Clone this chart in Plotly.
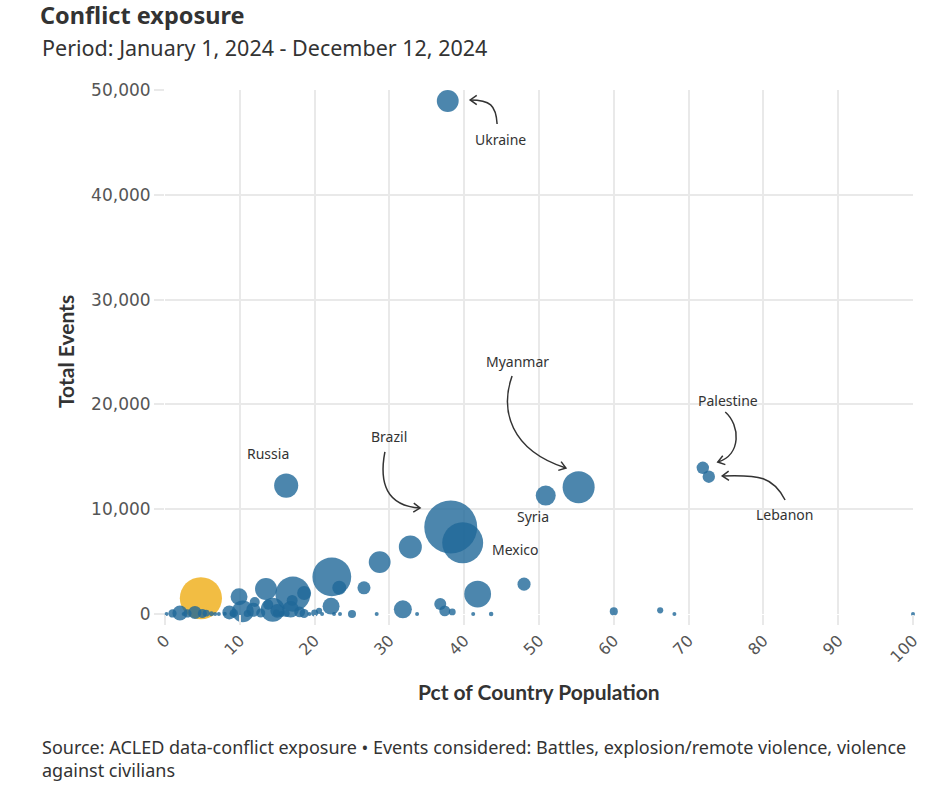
import math
import plotly.graph_objects as go

# ---------------- data ----------------
countries = [
    "India", "Ukraine", "Russia", "Myanmar", "Syria", "Palestine", "Lebanon", "Brazil", "Mexico",
    "c09", "c10", "Nigeria", "c12", "c13", "c14", "Pakistan", "c16", "c17", "c18", "c19",
    "Colombia", "Haiti", "c22", "c23", "c24", "c25", "c26", "c27", "c28", "c29", "c30",
    "c31", "c32", "c34", "c35", "c36", "c37", "c38", "c39", "c40", "c41", "c42", "c43",
    "c44", "c45", "c46", "c47", "c48", "c49", "c50", "c51", "c52", "c53", "c54", "c55",
    "c56", "c57", "c58", "c59", "c60", "c61", "c62", "c63", "c64", "c65", "c66", "c67",
    "c68", "c69", "c70",
]
pct_population = [
    4.8, 37.8, 16.2, 55.3, 50.9, 71.9, 72.7, 38.2, 39.8,
    32.8, 28.7, 22.3, 23.3, 26.6, 22.2, 17.1, 18.6, 17.0, 14.4, 13.5,
    41.8, 48.0, 31.8, 36.8, 37.4, 38.4, 33.7, 41.2, 43.6, 60.0, 66.2,
    68.1, 100.0, 9.9, 10.4, 12.0, 18.0, 18.6, 20.0, 20.6, 22.6, 23.4, 25.0,
    28.3, 0.2, 1.0, 2.0, 3.0, 4.0, 5.0, 5.5, 6.2, 6.7, 8.0, 8.6,
    9.2, 11.8, 13.8, 14.9, 15.6, 16.2, 19.3, 9.0, 11.0, 12.8, 15.0, 16.8,
    2.5, 7.2, 21.0,
]
total_events = [
    1500, 48950, 12250, 12100, 11300, 13950, 13100, 8300, 6800,
    6400, 4950, 3550, 2500, 2500, 750, 1900, 2000, 1300, 400, 2380,
    1900, 2850, 450, 950, 300, 200, 0, 0, 0, 250, 350,
    0, 0, 1650, 250, 1150, 200, 50, 100, 300, 0, 0, 0,
    0, 0, 50, 100, 50, 150, 50, 80, 20, 0, 20, 150,
    80, 400, 900, 100, 0, 50, 0, 0, 50, 100, 300, 450,
    0, 0, 0,
]
exposed_millions = [
    52, 14, 17, 30, 11.7, 4.5, 4.5, 82, 49,
    15.5, 14, 44, 5.7, 5, 8.4, 36, 5.7, 3.5, 17, 14,
    21, 5, 9.5, 4.2, 3.5, 1.4, 0.12, 0.12, 0.6, 1.9, 1.1,
    0.12, 0.4, 8.4, 14, 2.9, 3.5, 2.4, 1.4, 1.1, 0.26, 0.26, 1.9,
    0.12, 0.47, 2, 6.6, 2, 5, 2.4, 1.4, 0.7, 0.5, 0.3, 5.7,
    2, 5.7, 3, 1.4, 1, 1.4, 0.5, 0.8, 1.5, 2.4, 5.5, 8,
    0.3, 0.3, 0.3,
]
highlight_country = "India"

x_ticks = list(range(0, 101, 10))
y_ticks = [0, 10000, 20000, 30000, 40000, 50000]

# labels: (text, x, y)
label_text = ["Ukraine", "Russia", "Brazil", "Myanmar", "Syria", "Mexico", "Palestine", "Lebanon"]
label_x = [44.8, 13.8, 30.0, 47.1, 49.2, 46.9, 75.3, 82.8]
label_y = [45300, 15270, 16890, 24050, 9260, 6200, 20420, 9540]

# curved arrows (cubic Bezier, data coordinates): start, ctrl1, ctrl2, end
arrows = [
    # Ukraine
    [(44.4, 46760), (44.25, 48570), (43.45, 49050), (40.8, 49050)],
    # Brazil
    [(29.4, 15460), (28.6, 12500), (29.6, 10300), (34.1, 10115)],
    # Myanmar
    [(46.4, 22710), (44.8, 19470), (46.1, 15650), (53.6, 13930)],
    # Palestine
    [(74.9, 19275), (76.9, 18030), (77.1, 15170), (73.9, 14500)],
    # Lebanon
    [(82.9, 10880), (81.3, 13100), (79.5, 13300), (74.5, 13170)],
]

# ---------------- layout geometry ----------------
W, H = 950, 785
M_L, M_R, M_T, M_B = 165, 37, 90, 171
X_RANGE = [0, 100]
Y_RANGE = [0, 50000]
PW = W - M_L - M_R
PH = H - M_T - M_B
sx = PW / (X_RANGE[1] - X_RANGE[0])
sy = PH / (Y_RANGE[1] - Y_RANGE[0])

BLUE = "#1f6898"
YELLOW = "#efad14"
colors = [YELLOW if c == highlight_country else BLUE for c in countries]

fig = go.Figure()
fig.add_trace(go.Scatter(
    x=pct_population, y=total_events, mode="markers",
    text=countries, cliponaxis=False,
    marker=dict(size=exposed_millions, sizemode="area", sizeref=2 / 34.2, sizemin=2,
                color=colors, opacity=0.8, line=dict(width=0)),
    hovertemplate="%{text}<br>%{x}%<br>%{y:,}<extra></extra>",
    showlegend=False,
))

shapes = []
for (p0, c1, c2, e) in arrows:
    path = f"M {p0[0]},{p0[1]} C {c1[0]},{c1[1]} {c2[0]},{c2[1]} {e[0]},{e[1]}"
    shapes.append(dict(type="path", xref="x", yref="y", path=path,
                       line=dict(color="#333333", width=1.5)))
    # chevron arrow head
    dxp = (e[0] - c2[0]) * sx
    dyp = -(e[1] - c2[1]) * sy
    n = math.hypot(dxp, dyp)
    ux, uy = dxp / n, dyp / n
    L = 8
    wings = []
    for ang in (math.radians(35), -math.radians(35)):
        rx = ux * math.cos(ang) - uy * math.sin(ang)
        ry = ux * math.sin(ang) + uy * math.cos(ang)
        wx, wy = -L * rx, -L * ry
        wings.append((e[0] + wx / sx, e[1] - wy / sy))
    head = (f"M {wings[0][0]},{wings[0][1]} L {e[0]},{e[1]} "
            f"L {wings[1][0]},{wings[1][1]}")
    shapes.append(dict(type="path", xref="x", yref="y", path=head,
                       line=dict(color="#333333", width=1.5)))

annotations = []
for t, lx, ly in zip(label_text, label_x, label_y):
    annotations.append(dict(text=t, x=lx, y=ly, xref="x", yref="y", showarrow=False,
                            xanchor="center", yanchor="middle",
                            font=dict(family="Noto Sans", size=14, color="#333333")))

def px_x(p):
    return (p - M_L) / PW

def px_y(p):
    return (H - M_B - p) / PH

annotations += [
    dict(text="Period: January 1, 2024 - December 12, 2024", xref="paper", yref="paper",
         x=px_x(40), y=px_y(48), xanchor="left", yanchor="middle", showarrow=False,
         font=dict(family="Noto Sans", size=21.5, color="#333333")),
    dict(text="Source: ACLED data-conflict exposure \u2022 Events considered: Battles, explosion/remote violence, violence<br>against civilians",
         xref="paper", yref="paper", x=px_x(40), y=px_y(759), xanchor="left", yanchor="middle",
         align="left", showarrow=False,
         font=dict(family="Noto Sans", size=18, color="#333333")),
    dict(text="<b>Pct of Country Population</b>", xref="paper", yref="paper",
         x=px_x(539), y=px_y(691), xanchor="center", yanchor="middle", showarrow=False,
         font=dict(family="Lato", size=21, color="#333333")),
    dict(text="<b>Total Events</b>", xref="paper", yref="paper", textangle=-90,
         x=px_x(65), y=px_y(352), xanchor="center", yanchor="middle", showarrow=False,
         font=dict(family="Lato", size=21, color="#333333")),
]

GRID = "#e9e9e9"
fig.update_layout(
    width=W, height=H,
    margin=dict(l=M_L, r=M_R, t=M_T, b=M_B, pad=0),
    paper_bgcolor="white", plot_bgcolor="white",
    title=dict(text="<b>Conflict exposure</b>", xref="container", yref="container",
               x=40 / W, y=1 - 16 / H, xanchor="left", yanchor="middle",
               font=dict(family="Noto Sans", size=23.5, color="#333333")),
    xaxis=dict(range=X_RANGE, tickvals=x_ticks, tickangle=-45, showgrid=True,
               gridcolor=GRID, gridwidth=1.5, zeroline=False, showline=False,
               ticks="outside", ticklen=10, tickcolor=GRID, tickwidth=1.5,
               tickfont=dict(family="DejaVu Sans", size=16, color="#555555")),
    yaxis=dict(range=Y_RANGE, tickvals=y_ticks, tickformat=",", showgrid=True,
               gridcolor=GRID, gridwidth=1.5, zeroline=False, showline=False,
               ticks="outside", ticklen=10, tickcolor=GRID, tickwidth=1.5,
               tickfont=dict(family="DejaVu Sans", size=17, color="#555555")),
    shapes=shapes,
    annotations=annotations,
)

fig.write_html("out.html")
